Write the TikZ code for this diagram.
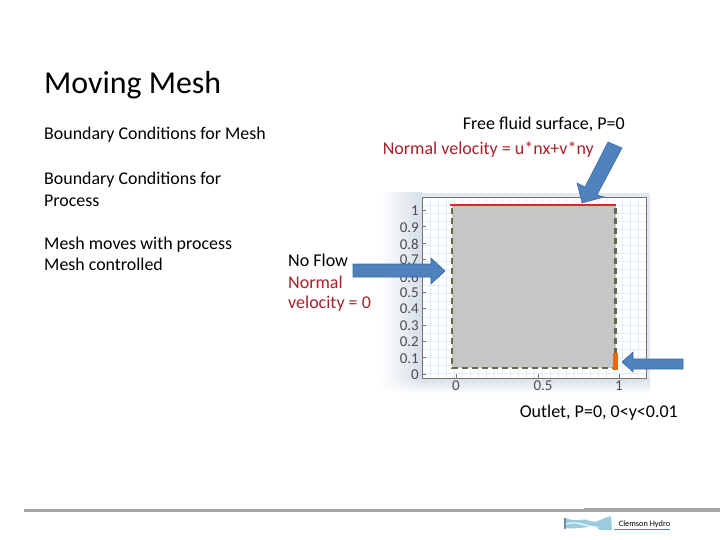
\documentclass[tikz,border=0pt]{standalone}
\usepackage{fontspec}
\usetikzlibrary{fadings}
\setmainfont{Carlito}
\definecolor{arrowblue}{HTML}{4F81BD}
\definecolor{arrowedge}{HTML}{3F6DA5}
\definecolor{darkred}{HTML}{A8202A}
\definecolor{meshgrey}{HTML}{C6C6C6}
\definecolor{dashgreen}{HTML}{5F6B4A}
\definecolor{gridblue}{HTML}{E2EEF6}
\definecolor{fadeblue}{HTML}{D5DEE8}
\definecolor{tealine}{HTML}{3E93AE}
\definecolor{logoblue}{HTML}{9CCBE0}
\definecolor{topred}{HTML}{E8202A}
\definecolor{outletorange}{HTML}{E36C0A}
\tikzset{
  title/.style={anchor=west,inner sep=0pt,font=\fontsize{31.9}{35}\selectfont},
  body/.style={anchor=west,inner sep=0pt,font=\fontsize{17.9}{21.5}\selectfont,align=left},
  lab/.style={anchor=west,inner sep=0pt,font=\fontsize{18}{21.5}\selectfont,align=left},
  ticklab/.style={inner sep=0pt,font=\fontsize{15}{16}\selectfont,text=black!70},
  bigarrow/.style={fill=arrowblue,draw=arrowedge,line width=0.6pt,line join=miter},
  bc/.style={line width=2.4pt,dash pattern=on 6pt off 4pt,draw=dashgreen}
}
\begin{document}
\begin{tikzpicture}[x=1pt,y=-1pt]
\useasboundingbox (0,0) rectangle (720,540);
% plot backdrop
\shade[left color=white,right color=fadeblue] (380,193) rectangle (422,378);
\shade[top color=fadeblue,bottom color=white] (380,378) rectangle (650,393);
\fill[white,path fading=east] (380,378) rectangle (422,393);
\fill[fadeblue!70] (422,193) rectangle (650,197);
\fill[fadeblue!70] (646,197) rectangle (650,378);
\fill[white] (422,197) rectangle (646,378);
\foreach \g in {430,438,...,646}{\draw[gridblue,line width=0.4pt] (\g,197) -- (\g,378);}
\foreach \g in {205,213,...,378}{\draw[gridblue,line width=0.4pt] (422,\g) -- (646,\g);}
\draw[black!55,line width=0.7pt] (422,378) -- (422,197) -- (646,197) -- (646,378) -- cycle;
\foreach \t in {210,226.4,...,374}{\draw[black!55,line width=0.5pt] (422,\t) -- (426,\t);}
\foreach \t in {456,538,619}{\draw[black!55,line width=0.5pt] (\t,378) -- (\t,374);}
% ticks
\node[ticklab,anchor=east] (y10) at (419,211) {1};
\node[ticklab,anchor=east] (y09) at (419,228) {0.9};
\node[ticklab,anchor=east] (y08) at (419,244) {0.8};
\node[ticklab,anchor=east] (y07) at (419,260) {0.7};
\node[ticklab,anchor=east] (y06) at (419,277) {0.6};
\node[ticklab,anchor=east] (y05) at (419,293) {0.5};
\node[ticklab,anchor=east] (y04) at (419,309) {0.4};
\node[ticklab,anchor=east] (y03) at (419,326) {0.3};
\node[ticklab,anchor=east] (y02) at (419,342) {0.2};
\node[ticklab,anchor=east] (y01) at (419,359) {0.1};
\node[ticklab,anchor=east] (y00) at (419,375) {0};
\node[ticklab] (x0) at (456,386) {0};
\node[ticklab] (x5) at (543,386) {0.5};
\node[ticklab] (x1) at (619,386) {1};
% mesh domain
\fill[meshgrey] (452,205) rectangle (615.5,368);
\draw[bc] (452,208) -- (452,368) -- (615.5,368);
\draw[bc] (615.5,208) -- (615.5,353);
\draw[topred,line width=2pt] (450,205.5) -- (616,205.5);
\fill[outletorange] (613,353) rectangle (617.5,370);
% arrows
\draw[bigarrow] (353,264) -- (431,264) -- (431,258) -- (445,271) -- (431,284) -- (431,277) -- (353,277) -- cycle;
\draw[bigarrow] (608,142) -- (622,148) -- (597,195) -- (604,197) -- (582,203) -- (577,183) -- (585,187) -- cycle;
\draw[bigarrow] (683,359) -- (633,359) -- (633,352) -- (622,362) -- (633,372) -- (633,369) -- (683,369) -- cycle;
% text
\node[title] (ttl) at (44,85) {Moving Mesh};
\node[body] (b1) at (44,135) {Boundary Conditions for Mesh};
\node[body] (b2) at (44,189.5) {Boundary Conditions for\\Process};
\node[body] (b3) at (44,254) {Mesh moves with process\\Mesh controlled};
\node[lab,anchor=east] (fs) at (625,124.5) {Free fluid surface, P=0};
\node[lab,anchor=east,text=darkred] (nv) at (594,150) {Normal velocity = u*nx+v*ny};
\node[lab] (nf) at (288,260) {No Flow};
\node[lab,text=darkred] (nn) at (288,282) {Normal};
\node[lab,text=darkred] (nz) at (288,303.5) {velocity = 0};
\node[lab,anchor=east] (ou) at (678,412.5) {Outlet, P=0, 0<y<0.01};
% footer
\fill[black!35] (24,509) rectangle (720,512);
\fill[black!35] (584,507.5) rectangle (720,510);
\fill[logoblue] (565,518) .. controls (578,523) and (585,517) .. (590,521) .. controls (596,524) and (602,518) .. (611,516) -- (612,530) -- (600,530) .. controls (592,523) and (585,530) .. (565,528) -- cycle;
\fill[logoblue!70!black] (564,518) rectangle (565.5,529);
\draw[white,line width=1pt] (566,524) .. controls (578,520) and (588,528) .. (598,527);
\draw[tealine,line width=0.7pt] (614,529) -- (670,529);
\node[inner sep=0pt,font=\fontsize{8.3}{9}\selectfont] (ch) at (644.5,524.5) {Clemson Hydro};
\end{tikzpicture}
\end{document}
